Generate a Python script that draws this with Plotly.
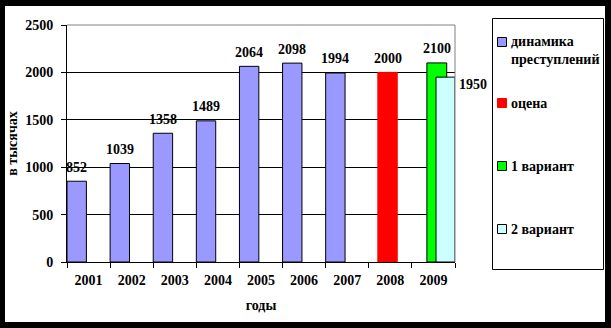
import plotly.graph_objects as go

# ---------------- data ----------------
years = ['2001', '2002', '2003', '2004', '2005', '2006', '2007', '2008', '2009']
crime_years = ['2001', '2002', '2003', '2004', '2005', '2006', '2007']
crime_values = [852, 1039, 1358, 1489, 2064, 2098, 1994]
estimate_years = ['2008']
estimate_values = [2000]
variant1_years = ['2009']
variant1_values = [2100]
variant2_years = ['2009']
variant2_values = [1950]
series_names = ['динамика преступлений', 'оцена', '1 вариант', '2 вариант']
y_ticks = [0, 500, 1000, 1500, 2000, 2500]

# ---------------- layout geometry ----------------
W, H = 611, 328
L, R, T, B = 67, 156, 25, 66
PW, PH = W - L - R, H - T - B
CATW = PW / len(years)


def px(x):
    return (x - L) / PW


def py(y):
    return (H - B - y) / PH


FONT = dict(family='Liberation Serif', size=14, color='black', weight='bold')

# (x, y, fill, outline, offset, width, label side)
series = [
    (crime_years, crime_values, '#9999FF', 'black', -0.5, 0.45, 'top'),
    (estimate_years, estimate_values, '#FF0000', '#FF0000', -0.29, 0.45, 'top'),
    (variant1_years, variant1_values, '#00FF00', 'black', -0.152, 0.46, 'top'),
    (variant2_years, variant2_values, '#CCFFFF', 'black', 0.06, 0.44, 'right'),
]

fig = go.Figure()
annotations = []
for name, (xs, ys, fill, edge, off, w, side) in zip(series_names, series):
    fig.add_trace(go.Bar(
        x=xs, y=ys, name=name, offset=off, width=w,
        marker=dict(color=fill, line=dict(color=edge, width=1)),
        showlegend=False,
    ))
    for xv, yv in zip(xs, ys):
        xi = years.index(xv)  # category index (avoid numeric-string ambiguity)
        if side == 'top':
            annotations.append(dict(
                x=xi, y=yv, xref='x', yref='y', text=str(yv), showarrow=False,
                xanchor='center', yanchor='middle',
                xshift=(off + w / 2) * CATW, yshift=14, font=FONT))
        else:
            annotations.append(dict(
                x=xi, y=yv, xref='x', yref='y', text=str(yv), showarrow=False,
                xanchor='left', yanchor='middle',
                xshift=(off + w) * CATW + 2, yshift=-7, font=FONT))

# ---------------- custom legend ----------------
shapes = [
    # white page inside black frame
    dict(type='rect', xref='paper', yref='paper', x0=px(5), x1=px(605),
         y0=py(322), y1=py(6), fillcolor='white', line=dict(width=0), layer='below'),
    # plot area grey border (top / right)
    dict(type='line', xref='paper', yref='paper', x0=0, x1=1, y0=1, y1=1,
         line=dict(color='#808080', width=1), layer='above'),
    dict(type='line', xref='paper', yref='paper', x0=1, x1=1, y0=0, y1=1,
         line=dict(color='#808080', width=1), layer='above'),
    # legend box
    dict(type='rect', xref='paper', yref='paper', x0=px(492.5), x1=px(603.5),
         y0=py(269.5), y1=py(18.5), fillcolor='white',
         line=dict(color='black', width=1), layer='above'),
]
legend_y = [42, 103, 166, 229]
for name, (xs, ys, fill, edge, off, w, side), ly in zip(series_names, series, legend_y):
    shapes.append(dict(type='rect', xref='paper', yref='paper',
                       x0=px(497.5), x1=px(506.5), y0=py(ly + 4.5), y1=py(ly - 4.5),
                       fillcolor=fill, line=dict(color=edge, width=1), layer='above'))
    words = name.split(' ')
    if len(words) > 1 and len(name) > 12:
        annotations.append(dict(x=px(509), y=py(ly - 10), xref='paper', yref='paper',
                                text='<br>'.join(words), showarrow=False,
                                xanchor='left', yanchor='top', align='left', font=FONT))
    else:
        annotations.append(dict(x=px(509), y=py(ly), xref='paper', yref='paper',
                                text=name, showarrow=False,
                                xanchor='left', yanchor='middle', align='left', font=FONT))

fig.update_layout(
    width=W, height=H,
    margin=dict(l=L, r=R, t=T, b=B, pad=0),
    paper_bgcolor='black', plot_bgcolor='white',
    barmode='overlay',
    font=FONT,
    shapes=shapes,
    annotations=annotations,
    xaxis=dict(
        type='category', categoryorder='array', categoryarray=years,
        range=[-0.5, len(years) - 0.5],
        tickson='boundaries', ticks='outside', ticklen=5, tickcolor='black',
        showline=True, linecolor='black', linewidth=1, showgrid=False,
        tickfont=FONT, ticklabelstandoff=5,
        title=dict(text='годы', font=FONT, standoff=13),
    ),
    yaxis=dict(
        range=[0, 2500], tickvals=y_ticks, ticks='outside', ticklen=5, tickcolor='black',
        showline=True, linecolor='black', linewidth=1,
        showgrid=True, gridcolor='black', gridwidth=1, zeroline=False,
        tickfont=FONT, ticklabelstandoff=5,
        title=dict(text='в тысячах', font=FONT, standoff=4),
    ),
)

fig.write_html('out.html')
